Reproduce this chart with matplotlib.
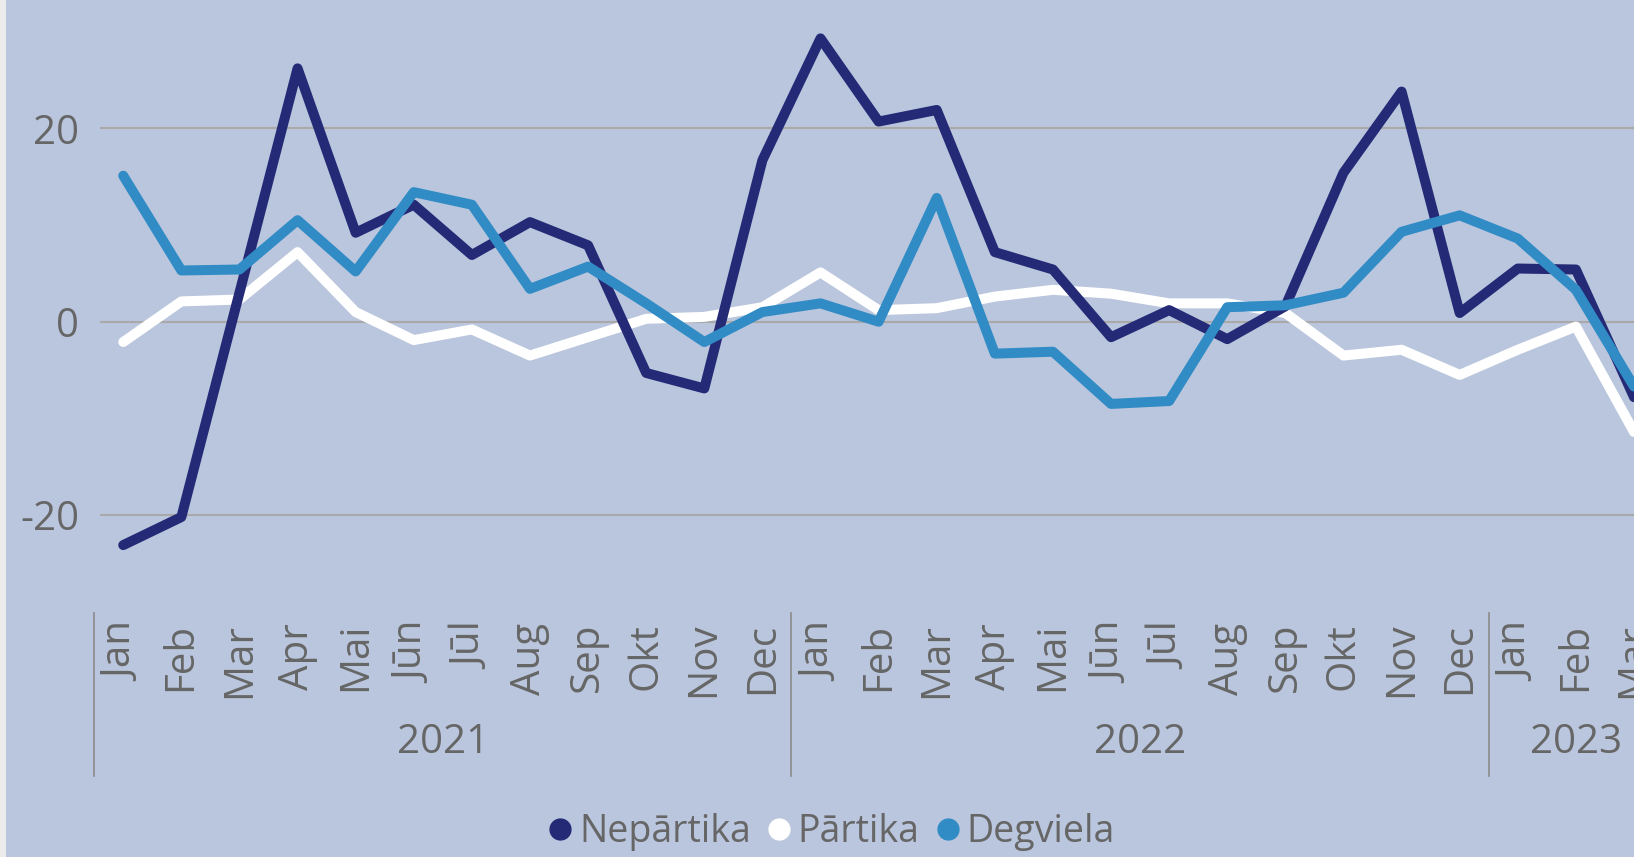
import matplotlib
matplotlib.use("Agg")
import matplotlib.pyplot as plt
from matplotlib.lines import Line2D
from matplotlib.patches import Rectangle
import matplotlib.transforms as mtransforms

plt.rcParams['font.family'] = ['Open Sans', 'DejaVu Sans']

months = ["Jan", "Feb", "Mar", "Apr", "Mai", "Jūn", "Jūl", "Aug", "Sep", "Okt", "Nov", "Dec"]
years = ["2021", "2022", "2023"]
months_per_year = [12, 12, 3]

nepartika = [-23.1, -20.2, 3.0, 26.2, 9.2, 12.1, 6.9, 10.3, 7.9, -5.3, -6.9, 16.7,
             29.3, 20.7, 21.9, 7.2, 5.4, -1.6, 1.2, -1.8, 1.6, 15.4, 23.8, 0.9,
             5.5, 5.4, -7.8]
partika = [-2.1, 2.1, 2.3, 7.2, 1.0, -1.9, -0.8, -3.5, -1.6, 0.3, 0.5, 1.5,
           5.1, 1.2, 1.4, 2.6, 3.3, 2.9, 1.9, 1.9, 0.9, -3.5, -2.9, -5.5,
           -2.9, -0.5, -11.4]
degviela = [15.1, 5.3, 5.4, 10.5, 5.2, 13.4, 12.1, 3.4, 5.7, 1.9, -2.1, 1.0,
            1.9, 0.0, 12.8, -3.3, -3.1, -8.5, -8.2, 1.5, 1.7, 3.0, 9.3, 11.0,
            8.6, 3.3, -6.7]

series_names = ["Nepārtika", "Pārtika", "Degviela"]
colors = ["#252A76", "#FFFFFF", "#318CC6"]
bg = "#BAC6DD"
txt = "#666666"

W, H = 1634, 857
fig = plt.figure(figsize=(W / 100, H / 100), dpi=100, facecolor=bg)
ax = fig.add_axes([100 / W, 1 - 595 / H, 1 - 100 / W, 595 / H])
ax.set_facecolor(bg)

labels = []
for n in months_per_year:
    labels += months[:n]
x = list(range(len(labels)))

data = [nepartika, partika, degviela]
zorders = [3, 2, 4]
for vals, c, z in zip(data, colors, zorders):
    ax.plot(x, vals, color=c, lw=7.2, solid_joinstyle='round',
            solid_capstyle='round', zorder=z, clip_on=True)

ax.set_xlim(-0.40, len(labels) - 1)
ax.set_ylim(-28.26, 33.27)
ax.set_yticks([-20, 0, 20])
ax.set_yticklabels(["-20", "0", "20"])
ax.grid(axis='y', color='#A9A9A9', lw=1.5, zorder=0)
ax.set_axisbelow(True)
for s in ax.spines.values():
    s.set_visible(False)
ax.tick_params(axis='y', length=0, pad=15, labelsize=29, labelcolor=txt)
ax.set_xticks(x)
ax.set_xticklabels(labels, rotation=90)
ax.tick_params(axis='x', length=0, pad=20, labelsize=29, labelcolor=txt)

# year groups
trans = mtransforms.blended_transform_factory(ax.transData, fig.transFigure)
start = 0
bounds = [-0.5]
for yr, n in zip(years, months_per_year):
    center = start + (n - 1) / 2
    ax.text(center, 1 - 743 / H, yr, transform=trans, ha='center', va='center',
            fontsize=29, color=txt, clip_on=False)
    start += n
    bounds.append(start - 0.5)
for b in bounds[:-1]:
    ax.add_line(Line2D([b, b], [1 - 613 / H, 1 - 776 / H], transform=trans,
                       color='#8A8A8A', lw=1.2, clip_on=False))

# legend
handles = [Line2D([], [], marker='o', ls='none', markersize=15,
                  markerfacecolor=c, markeredgecolor=c) for c in colors]
leg = fig.legend(handles, series_names, loc='center', bbox_to_anchor=(0.509, 1 - 832 / H),
                 ncol=3, frameon=False, fontsize=27, handlelength=0.6,
                 handletextpad=0.2, columnspacing=0.45, borderpad=0)
for t in leg.get_texts():
    t.set_color(txt)

# left strip
fig.patches.append(Rectangle((0, 0), 6 / W, 1, transform=fig.transFigure,
                             facecolor='#ECECEC', edgecolor='none', zorder=10))

fig.savefig("out.png", dpi=100, facecolor=bg)
